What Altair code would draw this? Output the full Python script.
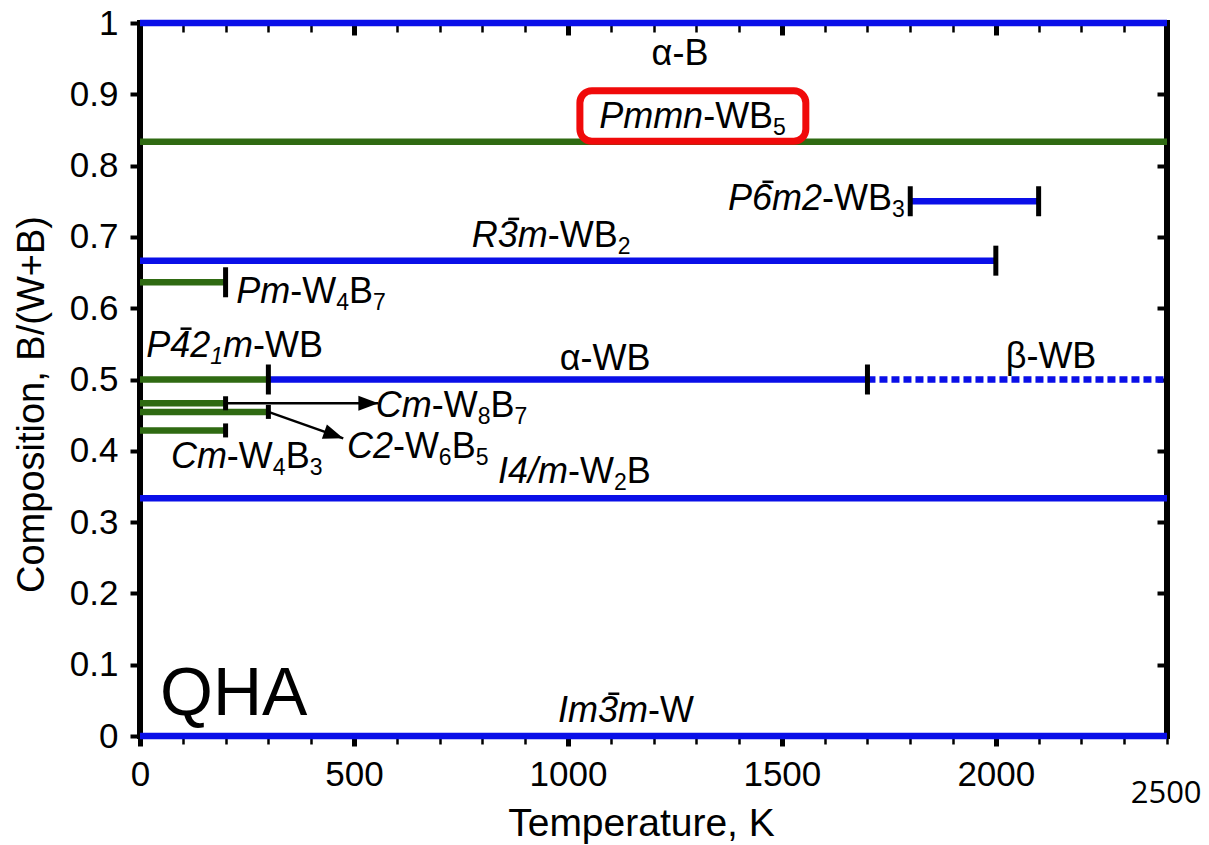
import math
import altair as alt
import pandas as pd

# ---- phase stability ranges: composition B/(W+B) vs temperature (K) ----
phase = ["α-B", "Pmmn-WB5", "P-6m2-WB3", "R-3m-WB2", "Pm-W4B7", "P-421m-WB",
         "α-WB", "β-WB", "Cm-W8B7", "C2-W6B5", "Cm-W4B3", "I4/m-W2B", "Im-3m-W"]
composition = [1.0, 5 / 6, 3 / 4, 2 / 3, 7 / 11, 1 / 2, 1 / 2, 1 / 2, 7 / 15, 5 / 11, 3 / 7, 1 / 3, 0.0]
t_low = [0, 0, 1800, 0, 0, 0, 300, 1700, 0, 0, 0, 0, 0]
t_high = [2400, 2400, 2100, 2000, 200, 300, 1700, 2400, 200, 300, 200, 2400, 2400]
status = ["known", "new", "known", "known", "new", "new", "known", "high-T",
          "new", "new", "new", "known", "known"]

# phase-boundary bars
cap_t = [1800, 2100, 2000, 200, 300, 1700]
cap_c = [3 / 4, 3 / 4, 2 / 3, 7 / 11, 1 / 2, 1 / 2]
small_cap_t = [200, 300, 200]
small_cap_c = [7 / 15, 5 / 11, 3 / 7]

# arrows pointing to labels of the crowded low-temperature phases
arrow_t0 = [200, 300]
arrow_c0 = [7 / 15, 5 / 11]
arrow_t1 = [557, 475]
arrow_c1 = [7 / 15, 0.4175]

# phase labels: italic space group + regular formula, joined at label_t
label_italic = ["Pmmn", "P6\u0304m2", "R3\u0304m", "Pm", "P4\u03042\u2081m",
                "Cm", "C2", "Cm", "I4/m", "Im3\u0304m"]
label_rest = ["-WB\u2085", "-WB\u2083", "-WB\u2082", "-W\u2084B\u2087", "-WB",
              "-W\u2088B\u2087", "-W\u2086B\u2085", "-W\u2084B\u2083", "-W\u2082B", "-W"]
label_t = [1316, 1594, 953, 351, 264, 682, 591, 203, 1000, 1187]
label_c = [0.853, 0.738, 0.686, 0.607, 0.532, 0.447, 0.390, 0.376, 0.355, 0.020]

plain_label = ["α-B", "α-WB", "β-WB"]
plain_t = [1262, 1087, 2129]
plain_c = [0.941, 0.513, 0.516]

x_major = [0, 500, 1000, 1500, 2000]
x_minor = [100 * i for i in range(25) if i % 5 != 0]
y_major = [round(0.1 * i, 1) for i in range(11)]

# ---- layout ----
W, H = 1027, 713
FONT = "Liberation Sans"
BLUE = "#0a0fe8"
GREEN = "#2f6a12"
FS = 36          # label font size
FS_SUB = 23      # subscript font size
SUB_DROP = 7     # subscript baseline shift, px
BAR_RISE = 28    # overbar height above baseline, px
SLANT = 0.21     # italic slant

xs = alt.Scale(domain=[0, 2400], nice=False, zero=False)
ys = alt.Scale(domain=[0, 1], nice=False, zero=False)
px_per_t = W / 2400
px_per_c = H / 1

# advance widths (em) of the Arial-metric font used for labels
ADV = {"P": .667, "m": .833, "n": .556, "R": .722, "I": .278, "C": .722, "W": .944,
       "B": .667, "-": .333, "/": .278}
SUBS = {chr(0x2080 + i): str(i) for i in range(10)}
MACRON = "\u0304"


def glyphs(s):
    """Split a label into (char, is_sub, has_bar) glyphs."""
    out = []
    for ch in s:
        if ch == MACRON and out:
            c, sub, _ = out[-1]
            out[-1] = (c, sub, True)
        elif ch in SUBS:
            out.append((SUBS[ch], True, False))
        else:
            out.append((ch, False, False))
    return out


def adv(ch, sub):
    return (ADV.get(ch, .556)) * (FS_SUB if sub else FS)


run_rows, bar_rows = [], []
for it, rest, t, c in zip(label_italic, label_rest, label_t, label_c):
    g_it, g_rest = glyphs(it), glyphs(rest)
    x = -sum(adv(ch, sub) for ch, sub, _ in g_it)   # px offset from the join point
    for italic, gl in ((True, g_it), (False, g_rest)):
        for ch, sub, bar in gl:
            w = adv(ch, sub)
            last = run_rows[-1] if run_rows else None
            if last and last["key"] == (it, rest, italic, sub) and last["open"]:
                last["txt"] += ch
            else:
                if last:
                    last["open"] = False
                run_rows.append({"key": (it, rest, italic, sub), "open": True, "txt": ch,
                                 "t": t + x / px_per_t,
                                 "c": c - (SUB_DROP / px_per_c if sub else 0),
                                 "italic": italic, "fs": FS_SUB if sub else FS})
            if bar:
                mid = x + w / 2 + (BAR_RISE * SLANT if italic else 0)
                bar_rows.append({"t0": t + (mid - 5.5) / px_per_t, "t1": t + (mid + 5.5) / px_per_t,
                                 "c": c + BAR_RISE / px_per_c})
            x += w
        if run_rows:
            run_rows[-1]["open"] = False

runs = pd.DataFrame([{k: v for k, v in r.items() if k not in ("key", "open")} for r in run_rows])
bars = pd.DataFrame(bar_rows)

phases = pd.DataFrame({"phase": phase, "c": composition, "t0": t_low, "t1": t_high, "status": status})
caps = pd.DataFrame({"t": cap_t, "c": cap_c})
small_caps = pd.DataFrame({"t": small_cap_t, "c": small_cap_c})
angles = [math.degrees(math.atan2(-(c1 - c0) * px_per_c, (t1 - t0) * px_per_t)) % 360
          for t0, c0, t1, c1 in zip(arrow_t0, arrow_c0, arrow_t1, arrow_c1)]
arrows = pd.DataFrame({"t0": arrow_t0, "c0": arrow_c0, "t1": arrow_t1, "c1": arrow_c1, "angle": angles})
plain = pd.DataFrame({"txt": plain_label, "t": plain_t, "c": plain_c})

no_axis = None


def ax_bottom_major():
    return alt.Axis(orient="bottom", values=x_major, title="Temperature, K", format="d",
                    domain=False, grid=False, tickSize=10, tickWidth=5, tickColor="black",
                    labelFont=FONT, labelFontSize=35, labelColor="black", labelPadding=39,
                    labelBaseline="alphabetic", labelFlush=False, labelOverlap=False,
                    titleFont=FONT, titleFontSize=39, titleFontWeight="normal", titleColor="black",
                    titleX=501, titleY=99, titleBaseline="alphabetic", titleAlign="center")


def ax_left():
    return alt.Axis(orient="left", values=y_major, title="Composition, B/(W+B)", format="~g",
                    domain=False, grid=False, tickSize=10, tickWidth=4, tickColor="black",
                    labelFont=FONT, labelFontSize=35, labelColor="black", labelPadding=12,
                    labelBaseline="middle", labelFlush=False, labelOverlap=False,
                    titleFont=FONT, titleFontSize=38, titleFontWeight="normal", titleColor="black",
                    titleX=-108, titleY=381, titleAngle=270, titleBaseline="middle", titleAlign="center")


def ticks_only(orient, values, size, width, offset=0):
    return alt.Axis(orient=orient, values=values, title=None, labels=False, domain=False, grid=False,
                    tickSize=size, tickWidth=width, tickColor="black", offset=offset)


status_domain = ["known", "new", "high-T"]

lines = alt.Chart(phases).mark_rule(strokeWidth=6.5, strokeCap="butt").encode(
    x=alt.X("t0:Q", scale=xs, axis=ax_bottom_major()),
    x2="t1:Q",
    y=alt.Y("c:Q", scale=ys, axis=ax_left()),
    color=alt.Color("status:N", scale=alt.Scale(domain=status_domain, range=[BLUE, GREEN, BLUE]), legend=None),
    strokeDash=alt.StrokeDash("status:N", scale=alt.Scale(domain=status_domain, range=[[1, 0], [1, 0], [8, 4]]),
                              legend=None),
)

# highlight box around the Pmmn-WB5 label
box = alt.Chart(pd.DataFrame({"t0": [1028], "t1": [1556], "c0": [0.834], "c1": [0.905]})).mark_rect(
    fill="white", stroke="#f00a0a", strokeWidth=7, cornerRadius=12
).encode(
    x=alt.X("t0:Q", scale=xs, axis=no_axis), x2="t1:Q",
    y=alt.Y("c0:Q", scale=ys, axis=no_axis), y2="c1:Q",
)

cap_marks = alt.Chart(caps).mark_tick(orient="vertical", size=30, thickness=5, color="black",
                                      opacity=1).encode(
    x=alt.X("t:Q", scale=xs, axis=ticks_only("bottom", x_minor, 8, 2.5)),
    y=alt.Y("c:Q", scale=ys, axis=ticks_only("right", y_major, 10, 4, -10)),
)

small_cap_marks = alt.Chart(small_caps).mark_tick(orient="vertical", size=14, thickness=5, color="black",
                                                  opacity=1).encode(
    x=alt.X("t:Q", scale=xs, axis=ticks_only("top", x_major, 12, 5, -12)),
    y=alt.Y("c:Q", scale=ys, axis=no_axis),
)

shafts = alt.Chart(arrows).mark_rule(strokeWidth=2.5, color="black").encode(
    x=alt.X("t0:Q", scale=xs, axis=ticks_only("top", x_minor, 9, 2.5, -9)),
    y=alt.Y("c0:Q", scale=ys, axis=no_axis),
    x2="t1:Q", y2="c1:Q",
)

heads = alt.Chart(arrows).mark_point(shape="M0,0L-2,-0.75L-2,0.75Z", filled=True, size=400,
                                     color="black", opacity=1).encode(
    x=alt.X("t1:Q", scale=xs, axis=no_axis),
    y=alt.Y("c1:Q", scale=ys, axis=no_axis),
    angle=alt.Angle("angle:Q", scale=None),
)

italic_runs = alt.Chart(runs).transform_filter("datum.italic").mark_text(
    align="left", baseline="alphabetic", font=FONT, fontStyle="italic", color="black").encode(
    x=alt.X("t:Q", scale=xs, axis=no_axis), y=alt.Y("c:Q", scale=ys, axis=no_axis),
    text="txt:N", size=alt.Size("fs:Q", scale=None))

roman_runs = alt.Chart(runs).transform_filter("!datum.italic").mark_text(
    align="left", baseline="alphabetic", font=FONT, color="black").encode(
    x=alt.X("t:Q", scale=xs, axis=no_axis), y=alt.Y("c:Q", scale=ys, axis=no_axis),
    text="txt:N", size=alt.Size("fs:Q", scale=None))

overbars = alt.Chart(bars).mark_rule(strokeWidth=2.5, color="black").encode(
    x=alt.X("t0:Q", scale=xs, axis=no_axis), x2="t1:Q",
    y=alt.Y("c:Q", scale=ys, axis=no_axis))

plain_text = alt.Chart(plain).mark_text(align="center", baseline="alphabetic", font=FONT,
                                        fontSize=FS, color="black").encode(
    x=alt.X("t:Q", scale=xs, axis=no_axis), y=alt.Y("c:Q", scale=ys, axis=no_axis), text="txt:N")

qha = alt.Chart(pd.DataFrame({"t": [47], "c": [0.029], "txt": ["QHA"]})).mark_text(
    align="left", baseline="alphabetic", font=FONT, fontSize=68, color="black").encode(
    x=alt.X("t:Q", scale=xs, axis=no_axis), y=alt.Y("c:Q", scale=ys, axis=no_axis), text="txt:N")

end_label = alt.Chart(pd.DataFrame({"t": [2398], "c": [-0.094], "txt": ["2500"]})).mark_text(
    align="center", baseline="alphabetic", font="Open Sans", fontSize=31, color="black").encode(
    x=alt.X("t:Q", scale=xs, axis=no_axis), y=alt.Y("c:Q", scale=ys, axis=no_axis), text="txt:N")

chart = alt.layer(
    lines, box, cap_marks, small_cap_marks, shafts, heads,
    italic_runs, roman_runs, overbars, plain_text, qha, end_label,
).resolve_axis(x="independent", y="independent").properties(
    width=W, height=H,
    autosize=alt.AutoSizeParams(type="none"),
    padding={"left": 140, "top": 23, "right": 42, "bottom": 109},
    background="white",
).configure_view(stroke="black", strokeWidth=6)

chart.save("out.html", embed_options={"renderer": "svg", "actions": False})
